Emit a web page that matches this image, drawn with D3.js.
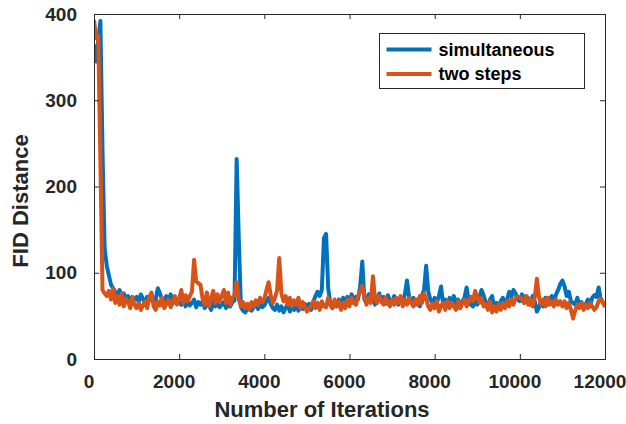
<!DOCTYPE html>
<html>
<head>
<meta charset="utf-8">
<script src="https://cdn.jsdelivr.net/npm/d3@7"></script>
<style>
  body { margin: 0; background: #fff; }
  svg { display: block; font-family: "Liberation Sans", Arial, sans-serif; }
  .tick-label { font-size: 19px; font-weight: bold; fill: #262626; }
  .axis-title { font-size: 22px; font-weight: bold; fill: #262626; }
  .legend-text { font-size: 18px; font-weight: bold; fill: #000; }
</style>
</head>
<body>
<svg id="chart"></svg>
<script>
// FID distance sampled every 50 iterations, 0..12000
const step = 50;

const simultaneous = [
  365, 345, 370, 392, 240, 128, 108, 97, 86, 82, 78, 74, 80, 72, 76, 70, 73, 68, 72, 69,
  72, 66, 75, 70, 64, 72, 68, 74, 66, 70, 82, 76, 68, 66, 73, 68, 75, 64, 71, 67,
  66, 63, 70, 61, 68, 62, 65, 69, 60, 66, 63, 67, 59, 65, 62, 57, 66, 61, 64, 60,
  63, 66, 59, 64, 61, 66, 68, 232, 140, 60, 56, 54, 58, 63, 56, 60, 64, 58, 64, 60,
  62, 67, 71, 64, 59, 57, 63, 56, 61, 54, 59, 64, 55, 60, 57, 62, 56, 61, 58, 64,
  60, 64, 57, 66, 73, 78, 73, 80, 140, 145, 82, 64, 59, 67, 61, 69, 63, 71, 65, 72,
  67, 75, 65, 72, 69, 84, 113, 69, 65, 75, 67, 73, 63, 70, 76, 66, 72, 64, 74, 68,
  65, 73, 67, 63, 71, 65, 75, 91, 72, 65, 71, 63, 69, 61, 73, 80, 108, 78, 69, 65,
  71, 65, 73, 84, 63, 69, 61, 71, 65, 73, 63, 69, 59, 67, 71, 83, 67, 63, 61, 67,
  63, 71, 80, 74, 65, 61, 69, 73, 57, 65, 59, 67, 71, 61, 69, 78, 72, 80, 76, 69,
  67, 75, 65, 73, 70, 63, 73, 67, 55, 60, 67, 61, 71, 63, 69, 73, 65, 75, 80, 87,
  91, 84, 73, 78, 67, 65, 63, 71, 61, 66, 59, 64, 69, 61, 71, 74, 72, 83, 69, 65,
  64
];

const twoSteps = [
  393, 372, 375, 230, 80, 76, 73, 79, 69, 82, 65, 73, 63, 76, 61, 70, 66, 59, 72, 63,
  59, 65, 57, 62, 67, 59, 72, 77, 61, 57, 67, 62, 71, 59, 64, 69, 60, 66, 73, 63,
  70, 80, 65, 74, 67, 73, 78, 115, 90, 88, 86, 70, 63, 77, 61, 70, 79, 65, 75, 67,
  73, 80, 65, 77, 63, 71, 74, 89, 69, 61, 66, 59, 64, 57, 66, 61, 68, 63, 71, 66,
  70, 80, 89, 74, 65, 71, 80, 117, 76, 67, 73, 63, 71, 61, 68, 63, 71, 59, 66, 61,
  55, 58, 62, 67, 59, 65, 57, 67, 61, 60, 71, 63, 59, 69, 61, 67, 57, 65, 59, 69,
  61, 71, 65, 63, 73, 78, 85, 72, 63, 71, 65, 96, 69, 65, 73, 67, 63, 71, 65, 61,
  69, 63, 71, 65, 73, 61, 69, 63, 71, 65, 61, 69, 63, 73, 65, 76, 70, 61, 57, 64,
  59, 67, 55, 62, 65, 57, 67, 59, 65, 61, 57, 67, 59, 65, 69, 61, 67, 72, 67, 79,
  72, 65, 71, 61, 64, 57, 67, 54, 61, 55, 63, 57, 65, 59, 67, 61, 69, 63, 71, 72,
  72, 69, 65, 73, 63, 69, 61, 71, 93, 72, 63, 69, 61, 71, 63, 67, 61, 69, 63, 67,
  61, 67, 59, 65, 57, 47, 56, 63, 59, 65, 57, 63, 59, 65, 61, 57, 60, 67, 70, 66,
  60
];

const seriesNames = ['simultaneous', 'two steps'];
const seriesColors = ['#0072BD', '#D95319'];
const xTicks = [0, 2000, 4000, 6000, 8000, 10000, 12000];
const yTicks = [0, 100, 200, 300, 400];

const config = {
  width: 626,
  height: 424,
  margin: { top: 14, right: 21, bottom: 65, left: 94 }
};

const svg = d3.select('#chart')
  .attr('width', config.width)
  .attr('height', config.height);

const innerW = config.width - config.margin.left - config.margin.right;
const innerH = config.height - config.margin.top - config.margin.bottom;

const g = svg.append('g')
  .attr('transform', `translate(${config.margin.left},${config.margin.top})`);

// Scales
const x = d3.scaleLinear().domain([0, 12000]).range([0, innerW]);
const y = d3.scaleLinear().domain([0, 400]).range([innerH, 0]);

// Clip lines to the axes box
svg.append('defs').append('clipPath')
  .attr('id', 'plot-clip')
  .append('rect')
  .attr('width', innerW)
  .attr('height', innerH);

const line = d3.line()
  .x((d, i) => x(i * step))
  .y(d => y(d));

const plot = g.append('g').attr('clip-path', 'url(#plot-clip)');

[simultaneous, twoSteps].forEach((values, i) => {
  plot.append('path')
    .datum(values)
    .attr('fill', 'none')
    .attr('stroke', seriesColors[i])
    .attr('stroke-width', 4)
    .attr('stroke-linejoin', 'round')
    .attr('d', line);
});

// Axes: ticks inward on all four sides (MATLAB box on)
const tickLen = 5;
const axisColor = '#262626';

const xAxisBottom = d3.axisBottom(x).tickValues(xTicks).tickSize(-tickLen).tickFormat('');
const xAxisTop = d3.axisTop(x).tickValues(xTicks).tickSize(-tickLen).tickFormat('');
const yAxisLeft = d3.axisLeft(y).tickValues(yTicks).tickSize(-tickLen).tickFormat('');
const yAxisRight = d3.axisRight(y).tickValues(yTicks).tickSize(-tickLen).tickFormat('');

g.append('g').attr('transform', `translate(0,${innerH})`).call(xAxisBottom);
g.append('g').call(xAxisTop);
g.append('g').call(yAxisLeft);
g.append('g').attr('transform', `translate(${innerW},0)`).call(yAxisRight);

g.selectAll('.domain').attr('stroke', axisColor);
g.selectAll('.tick line').attr('stroke', axisColor);

// Tick labels
g.selectAll('.x-label')
  .data(xTicks)
  .enter()
  .append('text')
  .attr('class', 'tick-label')
  .attr('x', d => x(d) - 5)
  .attr('y', innerH + 29)
  .attr('text-anchor', 'middle')
  .text(d => d);

g.selectAll('.y-label')
  .data(yTicks)
  .enter()
  .append('text')
  .attr('class', 'tick-label')
  .attr('x', -17)
  .attr('y', d => y(d))
  .attr('dy', '0.35em')
  .attr('text-anchor', 'end')
  .text(d => d);

// Axis titles
svg.append('text')
  .attr('class', 'axis-title')
  .attr('x', 322)
  .attr('y', 417)
  .attr('text-anchor', 'middle')
  .text('Number of Iterations');

svg.append('text')
  .attr('class', 'axis-title')
  .attr('transform', 'translate(28,201) rotate(-90)')
  .attr('text-anchor', 'middle')
  .text('FID Distance');

// Legend
const legend = svg.append('g').attr('transform', 'translate(379.5,33.5)');

legend.append('rect')
  .attr('width', 205)
  .attr('height', 55)
  .attr('fill', '#fff')
  .attr('stroke', axisColor)
  .attr('stroke-width', 1);

seriesNames.forEach((name, i) => {
  const ly = 16 + i * 24.5;
  legend.append('line')
    .attr('x1', 7)
    .attr('x2', 52)
    .attr('y1', ly)
    .attr('y2', ly)
    .attr('stroke', seriesColors[i])
    .attr('stroke-width', 4);
  legend.append('text')
    .attr('class', 'legend-text')
    .attr('x', 59)
    .attr('y', ly)
    .attr('dy', '0.35em')
    .text(name);
});
</script>
</body>
</html>
